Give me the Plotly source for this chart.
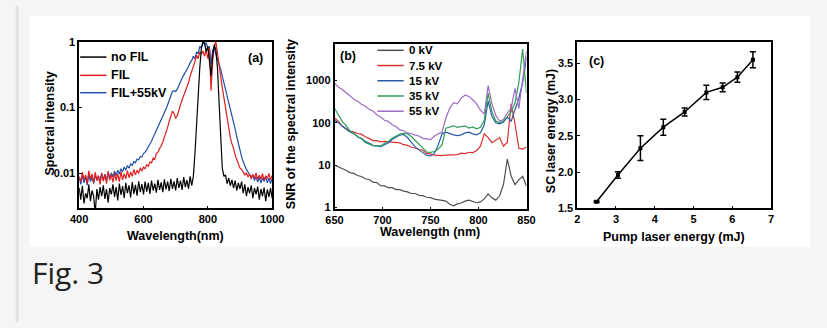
import plotly.graph_objects as go

W, H = 827, 328

# ---------------- Panel (a) data ----------------
wl_a = list(range(400, 1001, 5))
no_fil = [0.006,0.004,0.0065,0.0035,0.005,0.0042,0.0068,0.0038,0.0055,0.0045,0.0025,0.0058,0.004,0.0062,0.0045,0.0066,0.0041,0.0058,0.0036,0.006,0.0048,
          0.0068,0.0044,0.0062,0.0039,0.007,0.0047,0.0064,0.0042,0.0072,0.005,0.0066,0.0043,0.0074,0.0049,0.0067,0.0046,0.0076,0.0052,0.0069,0.0048,
          0.0075,0.0053,0.0072,0.0049,0.0078,0.0055,0.007,0.0051,0.008,0.0056,0.0073,0.0052,0.0081,0.0057,0.0075,0.0054,0.0083,0.0058,0.0076,0.0055,
          0.0085,0.006,0.0078,0.0056,0.0088,0.0062,0.0079,0.0058,0.009,0.0065,
          0.009,0.02,0.06,0.15,0.4,0.8,1.0,0.95,0.7,0.85,0.45,0.3,0.6,0.9,0.75,0.4,0.12,0.03,0.012,0.009,
          0.0095,0.007,0.0085,0.0065,0.008,0.006,0.0078,0.0055,0.0072,0.0058,0.0075,0.005,0.0068,0.0045,0.0062,
          0.005,0.0066,0.0042,0.006,0.0048,0.0063,0.004,0.0058,0.0045,0.0061,0.0038,0.0057,0.0044,0.006,0.0042]
fil = [0.009,0.0075,0.0105,0.008,0.0095,0.007,0.011,0.0082,0.0098,0.0072,0.0105,0.0078,0.0092,0.0068,0.0102,0.0076,0.0096,0.007,0.0108,0.0079,0.0095,
       0.0073,0.0102,0.0078,0.0098,0.0075,0.0106,0.008,0.0099,0.0083,0.011,0.0086,0.0105,0.009,0.0115,0.0095,0.0112,0.01,0.0122,0.0108,0.0125,
       0.0118,0.0135,0.0128,0.015,0.0145,0.017,0.0165,0.02,0.021,0.024,0.026,0.03,0.035,0.042,0.05,0.062,0.075,0.088,0.082,0.068,
       0.075,0.095,0.11,0.13,0.15,0.17,0.2,0.24,0.3,0.35,
       0.42,0.5,0.62,0.55,0.7,0.65,0.72,0.6,0.75,0.55,0.8,0.18,0.5,0.85,1.0,0.7,0.45,0.3,0.2,0.14,
       0.09,0.065,0.045,0.035,0.028,0.024,0.019,0.016,0.014,0.012,0.0115,0.0105,0.0095,0.0102,0.0088,
       0.0098,0.0082,0.0096,0.0085,0.0102,0.008,0.0094,0.0083,0.0099,0.0078,0.0092,0.0084,0.01,0.0079,0.0093]
fil_55 = [0.0085,0.0068,0.0095,0.0072,0.009,0.0066,0.0098,0.0075,0.0088,0.007,0.0096,0.0078,0.0092,0.0074,0.01,0.008,0.0097,0.0079,0.0104,0.0085,0.0102,
          0.0088,0.0108,0.0093,0.0112,0.0098,0.0118,0.0105,0.0125,0.0112,0.0132,0.012,0.014,0.0132,0.0152,0.0145,0.0165,0.016,0.018,0.0178,0.02,
          0.021,0.023,0.025,0.028,0.031,0.035,0.039,0.044,0.05,0.056,0.063,0.072,0.082,0.095,0.11,0.13,0.155,0.175,0.18,0.175,
          0.19,0.22,0.25,0.28,0.31,0.34,0.38,0.42,0.48,0.52,
          0.6,0.55,0.7,0.65,0.85,0.8,1.0,0.9,0.95,0.8,0.85,0.45,0.75,0.8,0.65,0.55,0.45,0.38,0.3,0.24,
          0.19,0.15,0.12,0.1,0.08,0.062,0.047,0.036,0.028,0.022,0.018,0.015,0.013,0.0115,0.0105,
          0.0098,0.0088,0.0095,0.0078,0.009,0.0074,0.0088,0.0071,0.0086,0.0075,0.0089,0.0072,0.0085,0.007,0.0082]
names_a = ["no FIL", "FIL", "FIL+55kV"]
colors_a = ["#000000", "#e02020", "#2050a8"]

# ---------------- Panel (b) data ----------------
wl_b = list(range(650, 851, 4))
snr_0 = [10,9.2,8.1,7.6,6.7,6.4,5.7,5.4,4.8,4.6,4.0,3.9,3.3,3.25,2.95,2.95,2.65,2.65,2.45,2.35,2.15,2.15,1.95,1.92,1.75,1.72,1.58,1.56,1.48,1.42,1.2,1.1,1.22,1.28,1.42,1.5,1.38,1.3,1.36,1.6,2.1,1.7,1.5,1.9,3.5,14,5.5,3.5,4.5,5.5,3.2]
snr_75 = [130,108,84,73,63,61,56,54,47,43,38,38,35.5,36.5,35.5,35.5,33.5,33.5,30.5,29.5,26.5,25.5,23.5,22.5,19,18.5,17.2,17,16.8,17.3,17.5,18.2,17.8,19.2,18.8,20.2,19.8,22,28,55,45,34,40,45,28,35,280,95,25,24,27]
snr_15 = [115,102,84,73,61,56,47,43,36.5,33.5,29.5,28.5,27.5,30.5,33.5,40.5,45.5,51.5,53,45,35,27,23,20,17,16.5,19,30,55,60,55,52,50,52,58,60,55,52,58,90,330,140,100,95,105,135,110,200,380,900,3500]
snr_35 = [220,150,108,86,65,57,47,42,34.5,31.5,28.5,28.5,28.5,32.5,36.5,43.5,48.5,54.5,56.5,55.5,47.5,38.5,30.5,25.5,20.5,20,21,24,30,75,80,85,78,80,85,75,80,72,78,115,500,180,110,100,110,140,180,300,900,5500,500]
snr_55 = [850,700,610,515,445,365,325,275,250,210,190,155,138,115,108,90,82,68,65,57,56,51,49,43,42,40,48,55,60,130,220,300,280,380,450,420,350,280,200,160,750,280,150,110,120,170,220,650,220,1200,5000]
names_b = ["0 kV", "7.5 kV", "15 kV", "35 kV", "55 kV"]
colors_b = ["#505050", "#d8302c", "#2a5caa", "#2e9e58", "#9b6cc2"]

# ---------------- Panel (c) data ----------------
pump = [2.5, 3.05, 3.63, 4.22, 4.77, 5.33, 5.75, 6.13, 6.53]
sc = [1.59, 1.96, 2.33, 2.62, 2.83, 3.10, 3.17, 3.31, 3.55]
sc_err = [0.01, 0.045, 0.17, 0.11, 0.055, 0.10, 0.06, 0.07, 0.11]


def px(x):
    return x / W


def py(y):
    return 1 - y / H


FONT = "Liberation Sans"
fig = go.Figure()

for vals, nm, col in [(fil_55, names_a[2], colors_a[2]), (fil, names_a[1], colors_a[1]), (no_fil, names_a[0], colors_a[0])]:
    fig.add_trace(go.Scatter(x=wl_a, y=vals, mode="lines", name=nm, line=dict(color=col, width=1.2),
                             xaxis="x", yaxis="y", showlegend=False))

for vals, nm, col in zip([snr_0, snr_75, snr_15, snr_35, snr_55], names_b, colors_b):
    fig.add_trace(go.Scatter(x=wl_b, y=vals, mode="lines", name=nm, line=dict(color=col, width=1.2),
                             xaxis="x2", yaxis="y2", showlegend=False))

fig.add_trace(go.Scatter(x=pump, y=sc, mode="lines+markers", line=dict(color="black", width=1.5),
                         marker=dict(symbol="square", size=4, color="black"),
                         error_y=dict(type="data", array=sc_err, color="black", thickness=1.5, width=3),
                         xaxis="x3", yaxis="y3", showlegend=False))

tickfont = dict(family=FONT, size=11, color="black", weight="bold")
common = dict(showline=True, mirror=True, linecolor="black", linewidth=1.5, showgrid=False, zeroline=False,
              ticks="inside", ticklen=3, tickwidth=1, tickcolor="black", tickfont=tickfont)

fig.update_layout(
    width=W, height=H, margin=dict(l=0, r=0, t=0, b=0),
    paper_bgcolor="#f5f5f5", plot_bgcolor="white", showlegend=False,
    xaxis=dict(domain=[px(72), px(270)], anchor="y", range=[400, 1000], tickvals=[400, 600, 800, 1000], **common),
    yaxis=dict(domain=[py(210), py(37)], anchor="x", type="log", range=[-2.53, 0.0],
               tickvals=[0.01, 0.1, 1], ticktext=["0.01", "0.1", "1"], **common),
    xaxis2=dict(domain=[px(334), px(531)], anchor="y2", range=[650, 850], tickvals=[650, 700, 750, 800, 850], **common),
    yaxis2=dict(domain=[py(211), py(39)], anchor="x2", type="log", range=[-0.04, 3.87],
                tickvals=[1, 10, 100, 1000], ticktext=["1", "10", "100", "1000"], **common),
    xaxis3=dict(domain=[px(583), px(782)], anchor="y3", range=[2, 7], tickvals=[2, 3, 4, 5, 6, 7], **common),
    yaxis3=dict(domain=[py(210), py(37)], anchor="x3", range=[1.5, 3.8], tickvals=[1.5, 2.0, 2.5, 3.0, 3.5],
                ticktext=["1.5", "2.0", "2.5", "3.0", "3.5"], **common),
)

shapes = [
    dict(type="rect", xref="paper", yref="paper", x0=px(21), x1=px(822), y0=py(250), y1=py(10),
         fillcolor="white", line=dict(width=0), layer="below"),
    dict(type="rect", xref="paper", yref="paper", x0=px(7), x1=px(10), y0=0, y1=1,
         fillcolor="#e2e2e2", line=dict(width=0), layer="below"),
]
annotations = []

lab = dict(family=FONT, size=12.5, color="black", weight="bold")

# Legend (a)
for i, (nm, col) in enumerate(zip(names_a, colors_a)):
    yy = [53, 72, 90][i]
    shapes.append(dict(type="line", xref="paper", yref="paper", x0=px(73), x1=px(100), y0=py(yy), y1=py(yy),
                       line=dict(color=col, width=1.5)))
    annotations.append(dict(xref="paper", yref="paper", x=px(103), y=py(yy), text=nm, showarrow=False,
                            xanchor="left", yanchor="middle", font=lab))

# Legend (b)
for i, (nm, col) in enumerate(zip(names_b, colors_b)):
    yy = 46 + i * 15.8
    shapes.append(dict(type="line", xref="paper", yref="paper", x0=px(378), x1=px(405), y0=py(yy), y1=py(yy),
                       line=dict(color=col, width=1.5)))
    annotations.append(dict(xref="paper", yref="paper", x=px(408), y=py(yy), text=nm, showarrow=False,
                            xanchor="left", yanchor="middle", font=dict(family=FONT, size=11.5, color="black", weight="bold")))

# Panel labels
for t, x, y in [("(a)", 253, 54), ("(b)", 348, 52), ("(c)", 603, 57)]:
    annotations.append(dict(xref="paper", yref="paper", x=px(x), y=py(y), text=t, showarrow=False,
                            xanchor="center", yanchor="middle", font=lab))

# Axis titles
for t, x, y, ang in [("Wavelength(nm)", 171, 239, 0), ("Wavelength (nm)", 432, 235, 0),
                     ("Pump laser energy (mJ)", 682, 240, 0),
                     ("Spectral intensity", 42, 122, -90), ("SNR of the spectral intensity", 289, 123, -90),
                     ("SC laser energy (mJ)", 556, 130, -90)]:
    annotations.append(dict(xref="paper", yref="paper", x=px(x), y=py(y), text=t, showarrow=False,
                            xanchor="center", yanchor="middle", textangle=ang, font=lab))

annotations.append(dict(xref="paper", yref="paper", x=px(22), y=py(277), text="Fig. 3", showarrow=False,
                        xanchor="left", yanchor="middle", font=dict(family="Open Sans", size=30, color="#222222")))

fig.update_layout(shapes=shapes, annotations=annotations)
fig.write_html("out.html", config={"displayModeBar": False},
               post_script="document.body.style.margin='0';document.body.style.overflow='hidden';")
